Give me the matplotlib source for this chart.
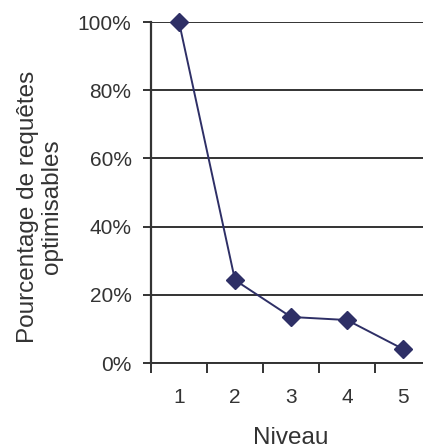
import matplotlib.pyplot as plt
from matplotlib.ticker import FuncFormatter

plt.rcParams['font.family'] = ['Liberation Sans', 'DejaVu Sans']

# Data
niveaux = [1, 2, 3, 4, 5]
pourcentages = [100, 24.3, 13.5, 12.6, 4.1]
y_ticks = [0, 20, 40, 60, 80, 100]

fig = plt.figure(figsize=(4.23, 4.48), dpi=100)
ax = fig.add_axes([151 / 423, 85 / 448, 280 / 423, 341 / 448])

# Grid lines
for y in y_ticks:
    ax.axhline(y, color='#333333', linewidth=1.4, zorder=1)

ax.plot(niveaux, pourcentages, color='#2e2f66', linewidth=1.4,
        marker='D', markersize=9, markerfacecolor='#2e2f66',
        markeredgecolor='#2e2f66', zorder=3, clip_on=False)

ax.set_xlim(0.5, 5.5)
ax.set_ylim(0, 100)
ax.set_yticks(y_ticks)
ax.yaxis.set_major_formatter(FuncFormatter(lambda v, p: f'{int(v)}%'))
ax.set_xticks(niveaux)
ax.set_xticks([0.5, 1.5, 2.5, 3.5, 4.5, 5.5], minor=True)

ax.tick_params(axis='y', length=6, width=1.4, color='#333333',
               labelsize=15, labelcolor='#333333', pad=8)
ax.tick_params(axis='x', which='major', length=0, labelsize=15,
               labelcolor='#333333', pad=18)
ax.tick_params(axis='x', which='minor', length=7, width=1.4, color='#333333')

for s in ['top', 'right']:
    ax.spines[s].set_visible(False)
ax.spines['left'].set_color('#333333')
ax.spines['left'].set_linewidth(1.6)
ax.spines['bottom'].set_color('#333333')
ax.spines['bottom'].set_linewidth(1.4)

ax.set_xlabel('Niveau', fontsize=17.5, color='#333333', labelpad=14.5)
fig.text(40 / 423, 1 - 207 / 448, 'Pourcentage de requêtes\noptimisables',
         rotation=90, ha='center', va='center', multialignment='center',
         fontsize=17.5, color='#333333', linespacing=1.15)

fig.savefig('out.png', dpi=100)
